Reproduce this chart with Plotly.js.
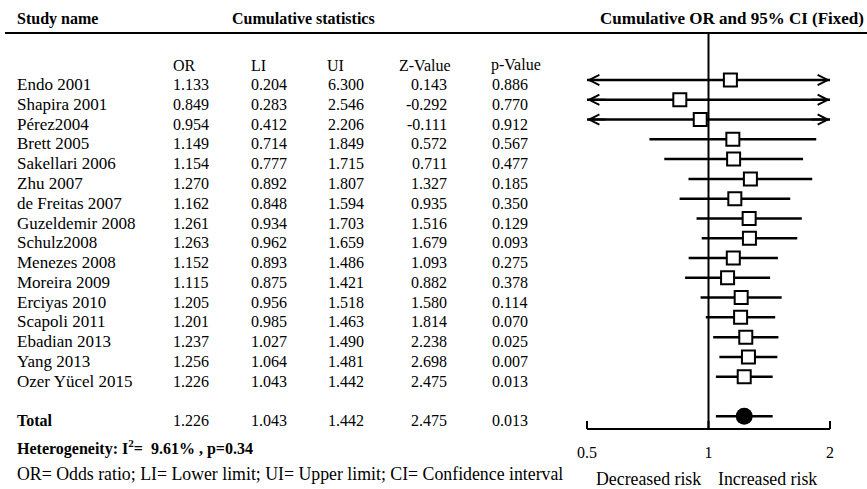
<!DOCTYPE html>
<html><head><meta charset="utf-8">
<script src="https://cdn.plot.ly/plotly-3.0.1.min.js"></script>
<style>html,body{margin:0;padding:0;background:#fff}</style>
</head><body><div id="chart" style="width:867px;height:489px"></div>
<script>
// ---- data ----
const studies = ["Endo 2001","Shapira 2001","Pérez2004","Brett 2005","Sakellari 2006","Zhu 2007","de Freitas 2007","Guzeldemir 2008","Schulz2008","Menezes 2008","Moreira 2009","Erciyas 2010","Scapoli 2011","Ebadian 2013","Yang 2013","Ozer Yücel 2015"];
const orVals = [1.133,0.849,0.954,1.149,1.154,1.270,1.162,1.261,1.263,1.152,1.115,1.205,1.201,1.237,1.256,1.226];
const lowerVals = [0.204,0.283,0.412,0.714,0.777,0.892,0.848,0.934,0.962,0.893,0.875,0.956,0.985,1.027,1.064,1.043];
const upperVals = [6.300,2.546,2.206,1.849,1.715,1.807,1.594,1.703,1.659,1.486,1.421,1.518,1.463,1.490,1.481,1.442];
const zVals = [0.143,-0.292,-0.111,0.572,0.711,1.327,0.935,1.516,1.679,1.093,0.882,1.580,1.814,2.238,2.698,2.475];
const pVals = [0.886,0.770,0.912,0.567,0.477,0.185,0.350,0.129,0.093,0.275,0.378,0.114,0.070,0.025,0.007,0.013];
const totalLabel = "Total";
const totalOR = 1.226, totalLower = 1.043, totalUpper = 1.442, totalZ = 2.475, totalP = 0.013;
const axisTicks = [0.5, 1, 2];
const axisTickText = ["0.5", "1", "2"];
const colHeaders = ["OR", "LI", "UI", "Z-Value", "p-Value"];

// ---- layout helpers ----
const W = 867, H = 489;
const row0 = 80, rowStep = 19.78;
const pxToRow = p => (p - row0) / rowStep;
const px = x => x / W;
const py = y => 1 - y / H;
const FONT = "Liberation Serif, Times New Roman, serif";
const xMin = axisTicks[0], xMax = axisTicks[axisTicks.length - 1];
const axL = 587, axR = 830, axY = 429;
const xPaper = v => (axL + (Math.log10(v) - Math.log10(xMin)) / (Math.log10(xMax) - Math.log10(xMin)) * (axR - axL)) / W;
const totalRow = studies.length + 1;
const rows = studies.map((_, i) => i);
const textDy = 0.23;

// CI lines
const ciX = [], ciY = [];
rows.forEach(i => { ciX.push(lowerVals[i], upperVals[i], null); ciY.push(i, i, null); });
ciX.push(totalLower, totalUpper); ciY.push(totalRow, totalRow);

const traces = [
  {x: [1, 1], y: [pxToRow(33), pxToRow(axY)], mode: 'lines', line: {color: '#000', width: 2}, hoverinfo: 'skip'},
  {x: ciX, y: ciY, mode: 'lines', line: {color: '#000', width: 2.5}, hoverinfo: 'skip'},
  {x: orVals, y: rows, mode: 'markers', marker: {symbol: 'square', size: 13, color: '#fff', line: {color: '#000', width: 2}}, hoverinfo: 'skip'},
  {x: [totalOR], y: [totalRow], mode: 'markers', marker: {symbol: 'circle', size: 17, color: '#000'}, hoverinfo: 'skip'}
];

const ann = [];
function txt(text, x, y, opts) {
  ann.push(Object.assign({text: text, x: x, y: y, xref: 'paper', yref: 'y', showarrow: false,
    xanchor: 'left', yanchor: 'middle', font: {family: FONT, size: 16, color: '#000'}}, opts || {}));
}
const nameFont = {family: FONT, size: 17, color: '#000'};
const colX = [171, 249, 325.5, 448.5, 490];
const colAnchor = ['left', 'left', 'left', 'right', 'left'];

rows.forEach(i => {
  const vals = [orVals[i], lowerVals[i], upperVals[i], zVals[i], pVals[i]];
  txt(studies[i], px(15), i + textDy, {font: nameFont});
  vals.forEach((v, c) => txt(v.toFixed(3), px(colX[c]), i + textDy, {xanchor: colAnchor[c]}));
});
// total row
txt('<b>' + totalLabel + '</b>', px(15), totalRow + textDy);
[totalOR, totalLower, totalUpper, totalZ, totalP].forEach((v, c) =>
  txt(v.toFixed(3), px(colX[c]), totalRow + textDy, {xanchor: colAnchor[c]}));

// column headers
const hdrX = [171, 249, 325, 453, 489];
colHeaders.forEach((h, c) => txt(h, px(hdrX[c]), py(65.5), {yref: 'paper', xanchor: colAnchor[c]}));

// top headers
txt('<b>Study name</b>', px(15), py(19), {yref: 'paper'});
txt('<b>Cumulative statistics</b>', px(303), py(19), {yref: 'paper', xanchor: 'center'});
txt('<b>Cumulative OR and 95% CI (Fixed)</b>', px(732), py(18), {yref: 'paper', xanchor: 'center', font: {family: FONT, size: 17, color: '#000'}});

// bottom
const bigFont = {family: FONT, size: 17.8, color: '#000'};
txt('<b>Heterogeneity: I<sup>2</sup>=  9.61% , p=0.34</b>', px(15), py(447), {yref: 'paper'});
txt('OR= Odds ratio; LI= Lower limit; UI= Upper limit; CI= Confidence interval', px(15), py(474), {yref: 'paper', font: bigFont});
txt('Decreased risk', px(648), py(479), {yref: 'paper', xanchor: 'center', font: bigFont});
txt('Increased risk', px(767), py(479), {yref: 'paper', xanchor: 'center', font: bigFont});

// arrows where CI exceeds axis
rows.forEach(i => {
  if (lowerVals[i] < xMin) ann.push({x: Math.log10(xMin), y: i, xref: 'x', yref: 'y', text: '', showarrow: true,
    arrowhead: 5, arrowsize: 1, arrowwidth: 2, arrowcolor: '#000', ax: 20, ay: 0, standoff: 0});
  if (upperVals[i] > xMax) ann.push({x: Math.log10(xMax), y: i, xref: 'x', yref: 'y', text: '', showarrow: true,
    arrowhead: 5, arrowsize: 1, arrowwidth: 2, arrowcolor: '#000', ax: -20, ay: 0, standoff: 0});
});

// axis line and tick marks (drawn as shapes)
const shapes = [
  {type: 'line', xref: 'paper', yref: 'paper', x0: 5 / W, x1: 1, y0: py(33), y1: py(33), line: {color: '#000', width: 2}},
  {type: 'line', xref: 'paper', yref: 'paper', x0: xPaper(xMin), x1: xPaper(xMax), y0: py(axY), y1: py(axY), line: {color: '#000', width: 2}}
];
axisTicks.forEach(v => shapes.push({type: 'line', xref: 'paper', yref: 'paper', x0: xPaper(v), x1: xPaper(v),
  y0: py(axY), y1: py(axY - 8), line: {color: '#000', width: 2}}));

const layout = {
  width: W, height: H, margin: {l: 0, r: 0, t: 0, b: 0},
  paper_bgcolor: '#fff', plot_bgcolor: 'rgba(0,0,0,0)', showlegend: false,
  xaxis: {type: 'log', range: [Math.log10(xMin), Math.log10(xMax)], domain: [axL / W, axR / W],
    anchor: 'free', position: 1 - axY / H, showline: false, ticks: '',
    tickvals: axisTicks, ticktext: axisTickText, ticklabelstandoff: 12,
    tickfont: {family: FONT, size: 16, color: '#000'}, showgrid: false, zeroline: false, fixedrange: true},
  yaxis: {range: [pxToRow(H), pxToRow(0)], domain: [0, 1], visible: false, showgrid: false, zeroline: false, fixedrange: true},
  shapes: shapes,
  annotations: ann
};
Plotly.newPlot('chart', traces, layout, {displayModeBar: false, staticPlot: true});
</script></body></html>
